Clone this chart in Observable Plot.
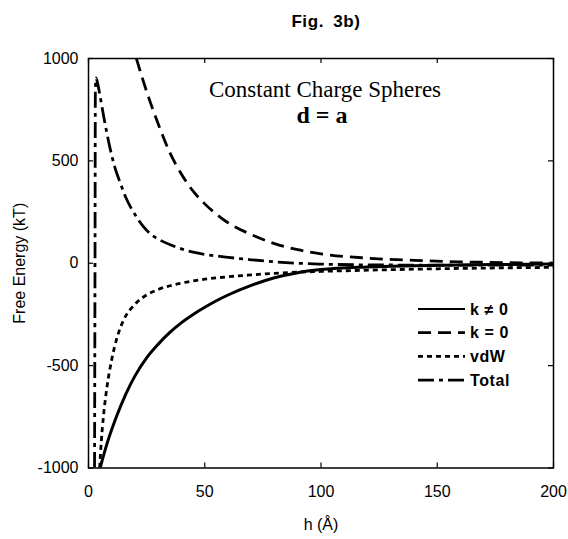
<!DOCTYPE html>
<html>
<head>
<meta charset="utf-8">
<script src="https://cdn.jsdelivr.net/npm/d3@7"></script>
<script src="https://cdn.jsdelivr.net/npm/@observablehq/plot@0.6"></script>
<style>
  html, body { margin: 0; padding: 0; background: #fff; }
  #fig { position: relative; width: 568px; height: 539px; font-family: "Liberation Sans", Arial, sans-serif; color: #000; }
  #title { height: 36px; position: relative; }
  #title span { position: absolute; left: 326px; top: 12px; transform: translateX(-50%); font-weight: bold; font-size: 17px; line-height: 19px; letter-spacing: 0.6px; word-spacing: 4px; white-space: nowrap; }
  #legend { position: absolute; left: 414px; top: 298px; }
</style>
</head>
<body>
<div id="fig">
  <div id="title"><span>Fig. 3b)</span></div>
  <div id="chart"></div>
  <svg id="legend" width="150" height="95"></svg>
</div>
<script>
// ---- data ----
const xTicks = [0, 50, 100, 150, 200];
const yTicks = [-1000, -500, 0, 500, 1000];

// k ≠ 0 (solid)
const hKnz = [5, 8, 12, 16, 20, 25, 30, 35, 40, 45, 50, 55, 60, 70, 80, 90, 100, 120, 140, 160, 180, 200];
const vKnz = [-1000, -880, -750, -640, -550, -462, -395, -338, -290, -250, -215, -183, -155, -108, -71, -46, -31, -18, -12, -8, -6, -4];

// k = 0 (dashed)
const hK0 = [20.6, 23, 26, 30, 35, 40, 45, 50, 55, 60, 70, 80, 90, 100, 120, 140, 160, 180, 200];
const vK0 = [1000, 910, 805, 680, 540, 435, 352, 290, 240, 198, 140, 96, 66, 46, 25, 14, 7, 3, 1];

// vdW (dotted)
const hVdw = [4.8, 5.5, 6.5, 8, 10, 12.5, 15, 20, 25, 30, 40, 50, 60, 70, 80, 100, 120, 150, 175, 200];
const vVdw = [-1000, -870, -740, -600, -470, -355, -280, -200, -155, -128, -97, -78, -66, -57, -49, -40, -34, -27, -23, -20];

// Total (dash-dot)
const hTot = [2.6, 2.8, 2.95, 3.2, 4, 5, 6.6, 8, 9.5, 11.5, 13.8, 16, 18.1, 21, 23.8, 27, 31, 38, 45, 52, 60, 70, 80, 90, 100, 120, 150, 200];
const vTot = [-1000, 0, 840, 905, 875, 815, 713, 630, 550, 462, 388, 322, 274, 220, 176, 140, 112, 78, 54, 40, 29, 17, 7, 0, -4, -8, -9, -9];

const seriesNames = ["k \u2260 0", "k = 0", "vdW", "Total"];
const seriesH = [hKnz, hK0, hVdw, hTot];
const seriesV = [vKnz, vK0, vVdw, vTot];
const dashes = [null, "13,7", "5,4", "16,5,4,5"];
const widths = [3, 2.8, 2.8, 2.8];

const annotation = ["Constant Charge Spheres"];
const annotation2 = ["d = a"];

// ---- plot ----
const W = 568, H = 503;
const mL = 88, mR = 15, mT = 22, mB = 71.5;
const plotW = W - mL - mR, plotH = H - mT - mB;
const tickLen = 5;

const lineMarks = seriesNames.map((name, i) => {
  const rows = seriesH[i].map((h, j) => ({h, v: seriesV[i][j]}));
  return Plot.line(rows, {x: "h", y: "v", stroke: "#000", strokeWidth: widths[i],
    strokeDasharray: dashes[i], curve: "monotone-x", clip: true, strokeLinecap: "butt"});
});

const chart = Plot.plot({
  width: W, height: H,
  marginLeft: mL, marginRight: mR, marginTop: mT, marginBottom: mB,
  style: {fontFamily: "'Liberation Sans', Arial, sans-serif", color: "#000", background: "#fff"},
  x: {domain: [0, 200]},
  y: {domain: [-1000, 1000]},
  marks: [
    ...lineMarks,
    Plot.frame({stroke: "#000", strokeWidth: 1.5}),
    // inward ticks on all four sides
    Plot.tickX(xTicks, {x: d => d, insetBottom: plotH - tickLen, stroke: "#000", strokeWidth: 1.2}),
    Plot.tickX(xTicks, {x: d => d, insetTop: plotH - tickLen, stroke: "#000", strokeWidth: 1.2}),
    Plot.tickY(yTicks, {y: d => d, insetRight: plotW - tickLen, stroke: "#000", strokeWidth: 1.2}),
    Plot.tickY(yTicks, {y: d => d, insetLeft: plotW - tickLen, stroke: "#000", strokeWidth: 1.2}),
    Plot.axisX({ticks: xTicks, tickSize: 0, tickPadding: 18, fontSize: 16, tickFormat: d => String(d),
      label: "h (\u00c5)", labelAnchor: "center", labelArrow: "none", labelOffset: 62}),
    Plot.axisY({ticks: yTicks, tickSize: 0, tickPadding: 10, fontSize: 16, tickFormat: d => String(d),
      label: "Free Energy (kT)", labelAnchor: "center", labelArrow: "none", labelOffset: 75}),
    Plot.text(annotation, {frameAnchor: "top", dx: 4, dy: 31, text: d => d, fontSize: 23,
      fontFamily: "'Liberation Serif', 'Times New Roman', serif", lineAnchor: "middle", fill: "#000"}),
    Plot.text(annotation2, {frameAnchor: "top", dx: 1, dy: 57, text: d => d, fontSize: 24, fontWeight: "bold",
      fontFamily: "'Liberation Serif', 'Times New Roman', serif", lineAnchor: "middle", fill: "#000"})
  ]
});
document.getElementById("chart").appendChild(chart);

// ---- legend ----
const leg = d3.select("#legend");
seriesNames.forEach((name, i) => {
  const y = 11 + i * 23.7;
  leg.append("line").attr("x1", 4).attr("x2", 51).attr("y1", y).attr("y2", y)
    .attr("stroke", "#000").attr("stroke-width", i === 0 ? 2 : widths[i])
    .attr("stroke-dasharray", dashes[i]);
  leg.append("text").attr("x", 56).attr("y", y).attr("dy", "0.35em")
    .attr("font-family", "'Liberation Sans', Arial, sans-serif").attr("font-weight", "bold")
    .attr("font-size", 16).attr("letter-spacing", "0.6px").text(name);
});
</script>
</body>
</html>
